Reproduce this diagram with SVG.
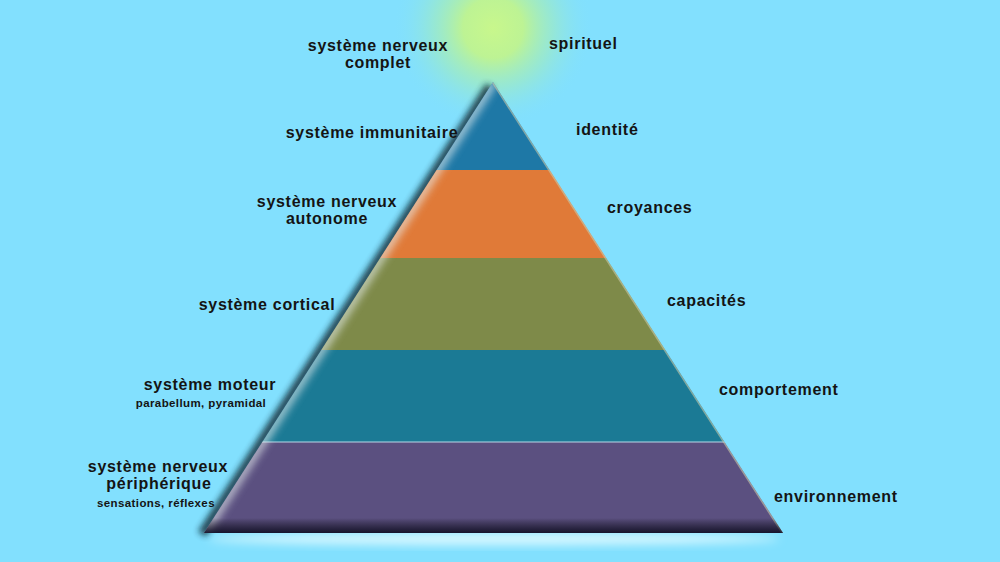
<svg xmlns="http://www.w3.org/2000/svg" width="1000" height="562" viewBox="0 0 1000 562">
<defs>
<style>
.t{font-family:"Liberation Sans",Arial,sans-serif;font-weight:bold;font-size:16px;letter-spacing:0.7px;fill:#141414}
.s{font-family:"Liberation Sans",Arial,sans-serif;font-weight:bold;font-size:11.5px;letter-spacing:0.4px;fill:#141414}
.m{text-anchor:middle}
</style>
<radialGradient id="sun" cx="493" cy="28" r="100" gradientUnits="userSpaceOnUse">
<stop offset="0" stop-color="#C8F78C"/>
<stop offset="0.3" stop-color="#BDF394"/>
<stop offset="0.6" stop-color="#A2ECBC" stop-opacity="0.6"/>
<stop offset="1" stop-color="#82E0FE" stop-opacity="0"/>
</radialGradient>
<linearGradient id="bot" x1="0" y1="518" x2="0" y2="534" gradientUnits="userSpaceOnUse">
<stop offset="0" stop-color="#000" stop-opacity="0"/>
<stop offset="1" stop-color="#0a0a20" stop-opacity="0.9"/>
</linearGradient>
<clipPath id="tri"><polygon points="493,82 204,533 783,533"/></clipPath>
<filter id="b4" x="-20%" y="-20%" width="140%" height="140%"><feGaussianBlur stdDeviation="4"/></filter>
<filter id="b3" x="-20%" y="-20%" width="140%" height="140%"><feGaussianBlur stdDeviation="3"/></filter>
<filter id="b6" x="-20%" y="-50%" width="140%" height="200%"><feGaussianBlur stdDeviation="5"/></filter>
</defs>
<rect width="1000" height="562" fill="#82E0FE"/>
<circle cx="493" cy="28" r="100" fill="url(#sun)"/>
<g id="pyramid">
<ellipse cx="494" cy="539" rx="285" ry="6" fill="#D8F8FF" filter="url(#b6)"/>
<line x1="490" y1="86" x2="202" y2="534" stroke="#0a2830" stroke-width="9" opacity="0.85" filter="url(#b3)"/>
<g clip-path="url(#tri)">
<rect x="0" y="80" width="1000" height="90" fill="#1E78A6"/>
<rect x="0" y="170" width="1000" height="88" fill="#E07A38"/>
<rect x="0" y="258" width="1000" height="92" fill="#7E8A49"/>
<rect x="0" y="350" width="1000" height="92" fill="#1B7A95"/>
<rect x="0" y="442" width="1000" height="92" fill="#5B5080"/>
<line x1="0" y1="442" x2="1000" y2="442" stroke="#B8D8E8" stroke-width="1"/>
<line x1="493" y1="82" x2="204" y2="533" stroke="#E8F0F0" stroke-width="8" opacity="0.75" filter="url(#b4)"/>
<line x1="493" y1="82" x2="783" y2="533" stroke="#C8C8A8" stroke-width="3" opacity="0.6"/>
<rect x="0" y="518" width="1000" height="16" fill="url(#bot)"/>
</g>
</g>
<g id="labels-left">
<text class="t m" x="378" y="51">système nerveux</text>
<text class="t m" x="378" y="68">complet</text>
<text class="t m" x="372" y="138">système immunitaire</text>
<text class="t m" x="327" y="207">système nerveux</text>
<text class="t m" x="327" y="224">autonome</text>
<text class="t m" x="267" y="310">système cortical</text>
<text class="t m" x="210" y="390">système moteur</text>
<text class="s m" x="201" y="407">parabellum, pyramidal</text>
<text class="t m" x="158" y="472">système nerveux</text>
<text class="t m" x="159" y="489">périphérique</text>
<text class="s m" x="156" y="507">sensations, réflexes</text>
</g>
<g id="labels-right">
<text class="t" x="549" y="49">spirituel</text>
<text class="t" x="576" y="135">identité</text>
<text class="t" x="607" y="213">croyances</text>
<text class="t" x="667" y="306">capacités</text>
<text class="t" x="719" y="395">comportement</text>
<text class="t" x="774" y="502">environnement</text>
</g>
</svg>
